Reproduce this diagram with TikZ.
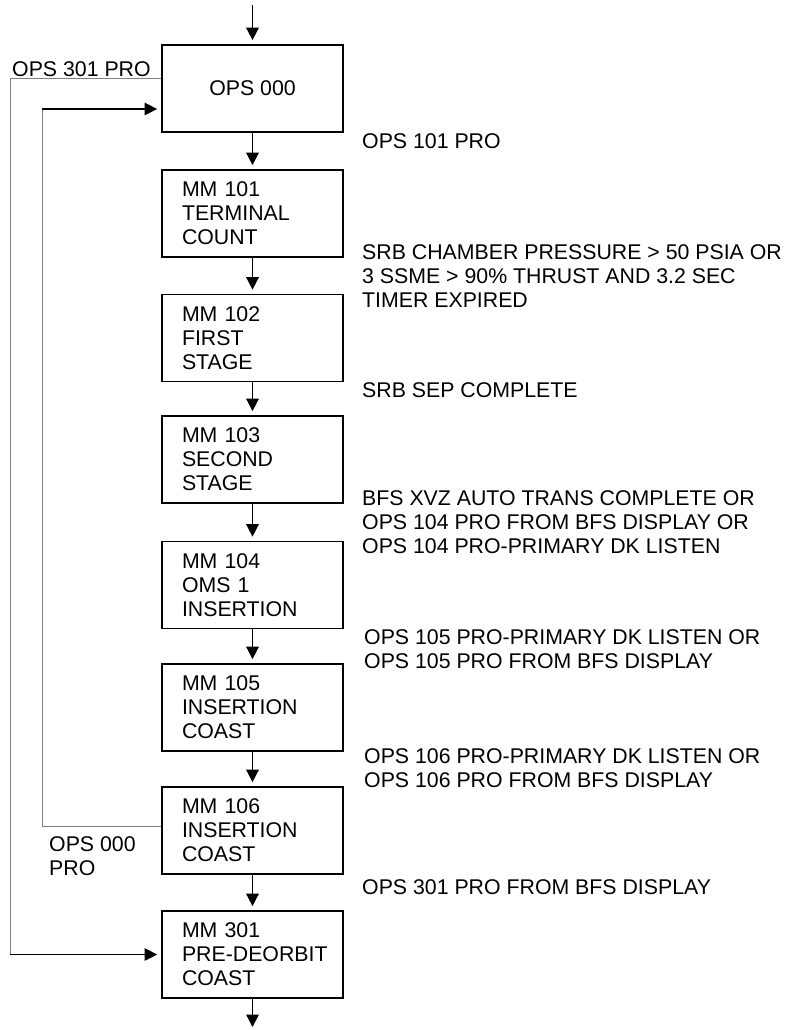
\documentclass[tikz,border=0pt]{standalone}
\usepackage{fontspec}
\setmainfont{Liberation Sans}
\usetikzlibrary{arrows.meta}
\hyphenpenalty=10000
\exhyphenpenalty=10000
\begin{document}
\begin{tikzpicture}[x=1pt,y=-1pt,
  font=\fontsize{21.3}{24}\selectfont,
  mmbox/.style={draw, line width=1.7pt, minimum width=181pt, minimum height=87pt,
    text width=141pt, inner xsep=20pt, inner ysep=0pt, align=left},
  opsbox/.style={draw, line width=1.7pt, minimum width=181pt, minimum height=87pt,
    inner sep=0pt, align=center},
  flow/.style={line width=1.5pt, -{Triangle[length=12.5pt,width=12.5pt]}, shorten >=4pt},
  loopline/.style={line width=1pt, draw=gray},
  cond/.style={anchor=west, inner sep=0pt, align=left}
]
\useasboundingbox (0,0) rectangle (788,1030);

% boxes
\node[opsbox] (ops000) at (252.5,88.5) {OPS 000};
\node[mmbox] (mm101) at (252.5,213.5) {MM 101\\TERMINAL\\COUNT};
\node[mmbox] (mm102) at (252.5,338) {MM 102\\FIRST\\STAGE};
\node[mmbox] (mm103) at (252.5,459.5) {MM 103\\SECOND\\STAGE};
\node[mmbox] (mm104) at (252.5,585) {MM 104\\OMS 1\\INSERTION};
\node[mmbox] (mm105) at (252.5,707.5) {MM 105\\INSERTION\\COAST};
\node[mmbox] (mm106) at (252.5,830.5) {MM 106\\INSERTION\\COAST};
\node[mmbox] (mm301) at (252.5,954.5) {MM 301\\\mbox{PRE-DEORBIT}\\COAST};

% main flow
\coordinate (top) at (252.5,5);
\coordinate (bot) at (252.5,1027);
\draw[flow] (top) -- (ops000.north);
\draw[flow] (ops000.south) -- (mm101.north);
\draw[flow] (mm101.south) -- (mm102.north);
\draw[flow] (mm102.south) -- (mm103.north);
\draw[flow] (mm103.south) -- (mm104.north);
\draw[flow] (mm104.south) -- (mm105.north);
\draw[flow] (mm105.south) -- (mm106.north);
\draw[flow] (mm106.south) -- (mm301.north);
\draw[flow, shorten >=0pt] (mm301.south) -- (bot);

% loops
\coordinate (o2) at (10,954.5);
\draw[loopline] ([yshift=9.5pt]ops000.west) -| (o2);
\draw[flow, line width=1.2pt] (o2) -- (mm301.west);
\coordinate (i1) at (42,109);
\draw[loopline] ([yshift=4.5pt]mm106.west) -| (i1);
\draw[flow, line width=1.2pt] (i1) -- (i1 -| ops000.west);

% labels
\node[cond] (l0) at (12,69.5) {OPS 301 PRO};
\node[cond] (l1) at (362,141) {OPS 101 PRO};
\node[cond] (l2) at (362,276) {SRB CHAMBER PRESSURE > 50 PSIA OR\\3 SSME > 90\% THRUST AND 3.2 SEC\\TIMER EXPIRED};
\node[cond] (l3) at (362,390.5) {SRB SEP COMPLETE};
\node[cond] (l4) at (362,522) {BFS XVZ AUTO TRANS COMPLETE OR\\OPS 104 PRO FROM BFS DISPLAY OR\\OPS 104 PRO-PRIMARY DK LISTEN};
\node[cond] (l5) at (364,649.25) {OPS 105 PRO-PRIMARY DK LISTEN OR\\OPS 105 PRO FROM BFS DISPLAY};
\node[cond] (l6) at (364,767.75) {OPS 106 PRO-PRIMARY DK LISTEN OR\\OPS 106 PRO FROM BFS DISPLAY};
\node[cond] (l7) at (362,887) {OPS 301 PRO FROM BFS DISPLAY};
\node[cond] (l8) at (49,856) {OPS 000\\PRO};
\end{tikzpicture}
\end{document}
